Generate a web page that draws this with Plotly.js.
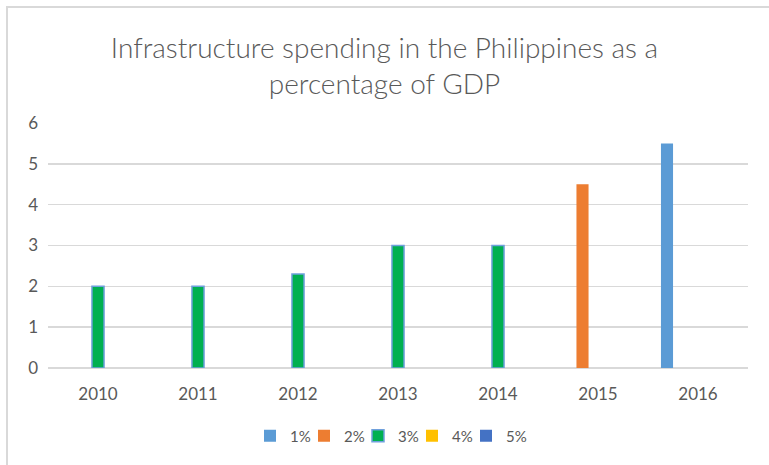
<!DOCTYPE html>
<html>
<head>
<meta charset="utf-8">
<script src="https://cdn.plot.ly/plotly-3.0.1.min.js"></script>
<style>
  html, body { margin: 0; padding: 0; background: #fff; }
  #wrap { position: relative; width: 769px; height: 465px; }
  #chart { position: absolute; left: 0; top: 0; width: 769px; height: 465px; }
  #frame { position: absolute; left: 6px; top: 6px; right: -2px; bottom: -2px;
           border-left: 2px solid #d9d9d9; border-top: 2px solid #d9d9d9; pointer-events: none; }
</style>
</head>
<body>
<div id="wrap">
  <div id="chart"></div>
  <div id="frame"></div>
</div>
<script>
const years = ['2010', '2011', '2012', '2013', '2014', '2015', '2016'];
const seriesNames = ['1%', '2%', '3%', '4%', '5%'];
const s1 = [null, null, null, null, null, null, 5.5];
const s2 = [null, null, null, null, null, 4.5, null];
const s3 = [2, 2, 2.3, 3, 3, null, null];
const s4 = [null, null, null, null, null, null, null];
const s5 = [null, null, null, null, null, null, null];
const titleText = 'Infrastructure spending in the Philippines as a<br>percentage of GDP';

const colors = ['#5B9BD5', '#ED7D31', '#00B050', '#FFC000', '#4472C4'];
const values = [s1, s2, s3, s4, s5];

// plot area geometry (pixels) used to place one legend per series
const W = 769, H = 465;
const M = { l: 48, r: 21, t: 123, b: 97 };
const plotW = W - M.l - M.r, plotH = H - M.t - M.b;
const legendSymbolPx = [270, 324, 378, 432, 486];
const legendCenterY = 436;

const font = "Lato, 'Open Sans', sans-serif";

const traces = values.map((v, i) => ({
  type: 'bar',
  name: seriesNames[i],
  x: years,
  y: v,
  legend: i === 0 ? 'legend' : 'legend' + (i + 1),
  marker: {
    color: colors[i],
    line: i === 2 ? { color: '#6FA0DC', width: 1.5 } : { width: 0 }
  },
  hoverinfo: 'x+y+name'
}));

const layout = {
  width: W,
  height: H,
  paper_bgcolor: 'rgba(0,0,0,0)',
  plot_bgcolor: '#fff',
  margin: M,
  title: {
    text: titleText,
    font: { family: font, size: 28, color: '#595959', weight: 300 },
    x: 0.5, xanchor: 'center',
    y: 1 - 58 / H, yanchor: 'middle', yref: 'container'
  },
  barmode: 'group',
  bargap: 0.225,
  bargroupgap: 0.22,
  xaxis: {
    type: 'category',
    showgrid: false,
    showline: false,
    zeroline: false,
    ticks: '',
    tickfont: { family: font, size: 17, color: '#595959' },
    ticklabelstandoff: 14
  },
  yaxis: {
    range: [0, 6],
    dtick: 1,
    showgrid: true,
    gridcolor: '#D9D9D9',
    gridwidth: 1.5,
    zeroline: true,
    zerolinecolor: '#D9D9D9',
    zerolinewidth: 1.5,
    showline: false,
    ticks: '',
    tickfont: { family: font, size: 17, color: '#595959' },
    ticklabelstandoff: 9
  },
  showlegend: true
};

seriesNames.forEach((n, i) => {
  const key = i === 0 ? 'legend' : 'legend' + (i + 1);
  layout[key] = {
    orientation: 'h',
    x: (legendSymbolPx[i] - 20 - M.l) / plotW, xanchor: 'left',
    y: -(legendCenterY - (H - M.b)) / plotH, yanchor: 'middle',
    font: { family: font, size: 15, color: '#595959' },
    bgcolor: 'rgba(0,0,0,0)',
    borderwidth: 0
  };
});

Plotly.newPlot('chart', traces, layout, { displayModeBar: false, staticPlot: true });
</script>
</body>
</html>
